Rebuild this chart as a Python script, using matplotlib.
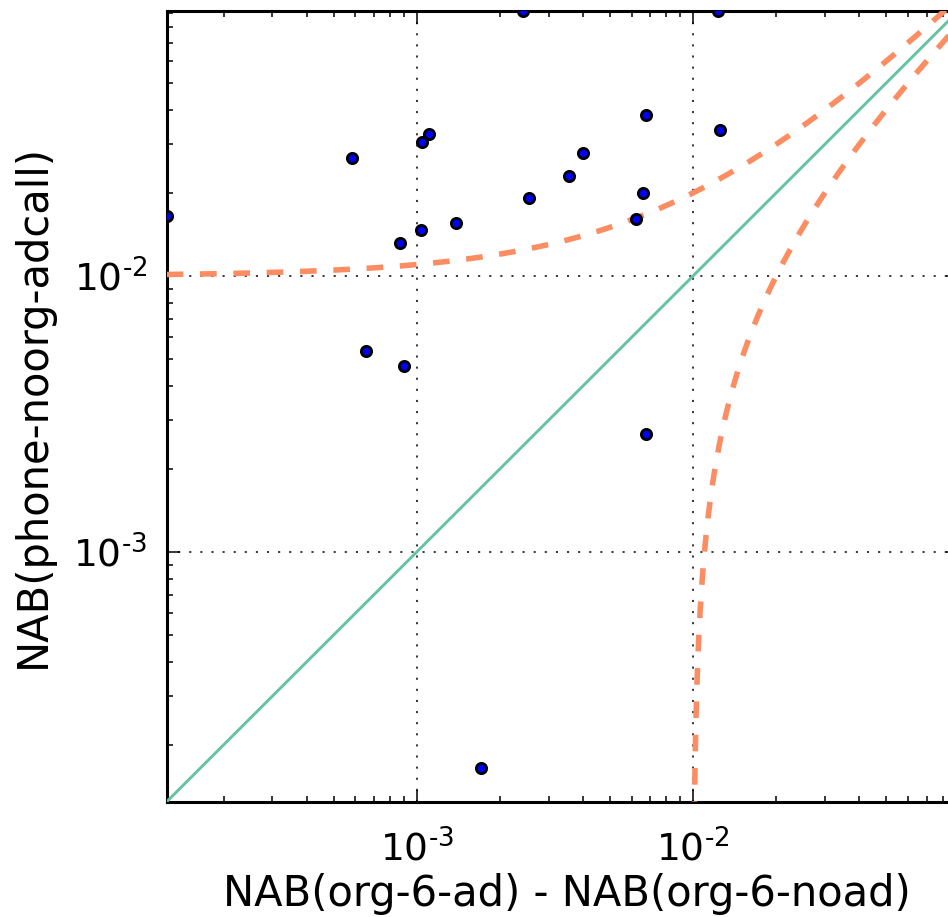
import numpy as np
import matplotlib
matplotlib.use("Agg")
import matplotlib.pyplot as plt
from matplotlib.ticker import LogLocator, NullFormatter, FuncFormatter

# NAB differences (x) against NAB of phone-noorg-adcall (y)
nab_ad_minus_noad = [
    1.245e-4, 5.83e-4, 8.73e-4, 1.045e-3, 1.104e-3, 1.04e-3, 1.384e-3,
    2.43e-3, 2.54e-3, 1.236e-2, 6.78e-3, 1.253e-2, 4.01e-3, 3.57e-3,
    6.58e-3, 6.24e-3, 6.53e-4, 8.97e-4, 6.73e-3, 1.714e-3,
]
nab_phone_noorg_adcall = [
    0.01655, 0.02673, 0.01312, 0.03062, 0.03274, 0.01471, 0.01555,
    0.0912, 0.0191, 0.0912, 0.0383, 0.03366, 0.02799, 0.02308,
    0.01996, 0.01611, 5.36e-3, 4.73e-3, 2.68e-3, 1.652e-4,
]
threshold = 0.01

x = np.asarray(nab_ad_minus_noad)
y = np.asarray(nab_phone_noorg_adcall)

plt.rcParams["mathtext.default"] = "regular"
plt.rcParams["lines.scale_dashes"] = False
plt.rcParams["font.family"] = "DejaVu Sans"

DPI = 100
fig = plt.figure(figsize=(9.48, 9.17), dpi=DPI)
W, H = 948.0, 917.0
left, top, bottom = 166.7, 11.0, 801.7
ax_w, ax_h = 791.6, bottom - top
ax = fig.add_axes([left / W, (H - bottom) / H, ax_w / W, ax_h / H])
ax.set_xscale("log")
ax.set_yscale("log")

lo = min(x.min(), y.min())
hi = max(x.max(), y.max())

# identity line
diag = np.array([lo, hi])
ax.plot(diag, diag, color="#66c2a5", lw=2.1, zorder=3)

# threshold envelopes y = x +/- threshold
xs = np.logspace(np.log10(lo), np.log10(hi), 400)
ax.plot(xs, xs + threshold, color="#fc8d62", lw=4.0, ls=(0, (12, 12)),
        zorder=4)
xs_low = threshold + np.logspace(-7, np.log10(hi - threshold), 600)
ax.plot(xs_low, xs_low - threshold, color="#fc8d62", lw=4.0,
        ls=(0, (12, 12)), zorder=4)

ax.plot(x, y, ls="none", marker="o", ms=7.4, mfc="#0000ff", mec="black",
        mew=2.0, zorder=5)

ax.set_xlim(lo, hi)
ax.set_ylim(lo, hi)


def decade_label(val, pos):
    exp = int(round(np.log10(val)))
    sign = r"\text{-}" if exp < 0 else ""
    return r"$10^{%s%d}$" % (sign, abs(exp))


for axis in (ax.xaxis, ax.yaxis):
    axis.set_major_locator(LogLocator(base=10))
    axis.set_major_formatter(FuncFormatter(decade_label))
    axis.set_minor_locator(LogLocator(base=10, subs=np.arange(2, 10)))
    axis.set_minor_formatter(NullFormatter())

ax.grid(True, which="major", color="black", lw=1.1, ls=(0, (1.5, 6.5)))
ax.set_axisbelow(True)

px = 72.0 / DPI  # points per pixel
ax.tick_params(which="both", direction="in", top=True, right=True,
               width=1.1, labelsize=27)
ax.tick_params(which="major", length=9)
ax.tick_params(which="minor", length=4.5)
# x tick labels sit on a baseline ~59 px below the axis
ax.tick_params(axis="x", pad=59 * px)
ax.tick_params(axis="y", pad=19.5 * px)

for sp in ax.spines.values():
    sp.set_linewidth(2.2)

ax.set_xlabel("NAB(org-6-ad) - NAB(org-6-noad)", fontsize=30,
              va="baseline")
ax.xaxis.set_label_coords((567 - left) / ax_w, -(906 - bottom) / ax_h)
ax.set_ylabel("NAB(phone-noorg-adcall)", fontsize=30)
ax.yaxis.set_label_coords(-(left - 54) / ax_w, 0.5)

fig.canvas.draw()
for t in ax.xaxis.get_major_ticks():
    t.label1.set_va("baseline")

fig.savefig("out.png", dpi=DPI)
